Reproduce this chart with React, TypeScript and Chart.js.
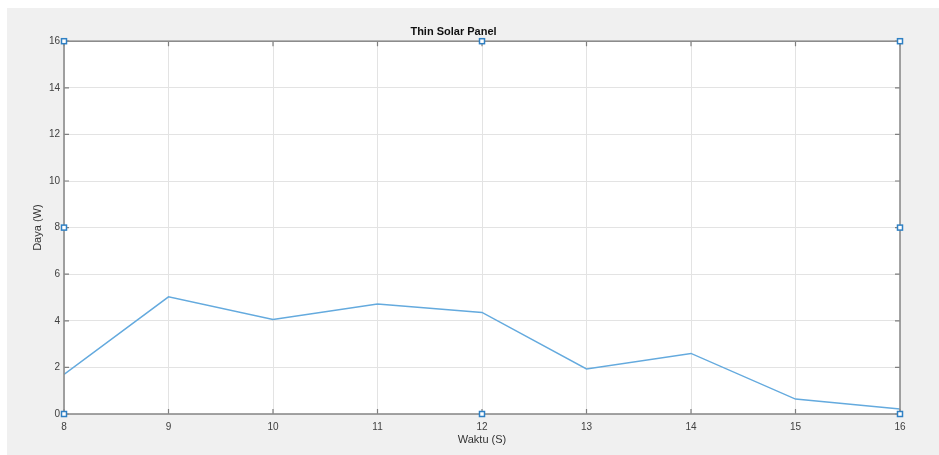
import React, { useEffect, useRef } from "react";
import { Chart, registerables } from "chart.js";

Chart.register(...registerables);

const waktu = [8, 9, 10, 11, 12, 13, 14, 15, 16];
const daya = [1.7, 5.03, 4.06, 4.72, 4.36, 1.93, 2.6, 0.64, 0.21];
const chartTitle = "Thin Solar Panel";
const xLabel = "Waktu (S)";
const yLabel = "Daya (W)";

const FONT = "'Liberation Sans', Arial, Helvetica, sans-serif";

const matlabAxesPlugin = {
  id: "matlabAxes",
  beforeDraw(chart: any) {
    const { ctx, chartArea } = chart;
    const { left, right, top, bottom } = chartArea;
    ctx.save();
    ctx.fillStyle = "#ffffff";
    ctx.fillRect(left, top, right - left, bottom - top);
    ctx.restore();
  },
  afterDraw(chart: any) {
    const { ctx, chartArea } = chart;
    const { left, right, top, bottom } = chartArea;
    const xs = chart.scales.x;
    const ys = chart.scales.y;
    ctx.save();
    // inward ticks
    ctx.strokeStyle = "#7f7f7f";
    ctx.lineWidth = 1.2;
    const tl = 5;
    ctx.beginPath();
    xs.ticks.forEach((t: any) => {
      const px = xs.getPixelForValue(t.value);
      ctx.moveTo(px, bottom);
      ctx.lineTo(px, bottom - tl);
      ctx.moveTo(px, top);
      ctx.lineTo(px, top + tl);
    });
    ys.ticks.forEach((t: any) => {
      const py = ys.getPixelForValue(t.value);
      ctx.moveTo(left, py);
      ctx.lineTo(left + tl, py);
      ctx.moveTo(right, py);
      ctx.lineTo(right - tl, py);
    });
    ctx.stroke();
    // box
    ctx.strokeStyle = "#8c8c8c";
    ctx.lineWidth = 1.6;
    ctx.strokeRect(left, top, right - left, bottom - top);
    // selection handles
    const midX = (left + right) / 2;
    const midY = (top + bottom) / 2;
    const pts = [
      [left, top], [midX, top], [right, top],
      [left, midY], [right, midY],
      [left, bottom], [midX, bottom], [right, bottom],
    ];
    ctx.lineWidth = 1.5;
    ctx.strokeStyle = "#2f80c4";
    ctx.fillStyle = "#ffffff";
    pts.forEach(([px, py]) => {
      ctx.fillRect(px - 2.5, py - 2.5, 5, 5);
      ctx.strokeRect(px - 2.5, py - 2.5, 5, 5);
    });
    ctx.restore();
  },
};

export default function App() {
  const ref = useRef<HTMLCanvasElement | null>(null);

  useEffect(() => {
    if (!ref.current) return;
    const chart = new Chart(ref.current, {
      type: "line",
      data: {
        datasets: [
          {
            data: waktu.map((x, i) => ({ x, y: daya[i] })),
            borderColor: "rgb(100,170,222)",
            borderWidth: 1.5,
            pointRadius: 0,
            tension: 0,
            fill: false,
          },
        ],
      },
      options: {
        responsive: false,
        animation: false,
        layout: { padding: { top: 0, right: 39, bottom: 0, left: 0 } },
        plugins: {
          legend: { display: false },
          tooltip: { enabled: false },
          title: {
            display: true,
            text: chartTitle,
            color: "#111111",
            font: { family: FONT, size: 11, weight: "bold" },
            padding: { top: 17, bottom: 3 },
          },
        },
        scales: {
          x: {
            type: "linear",
            min: 8,
            max: 16,
            ticks: {
              stepSize: 1,
              color: "#404040",
              font: { family: FONT, size: 10 },
              padding: 7,
              maxRotation: 0,
            },
            grid: { color: "#e3e3e3", lineWidth: 1, drawTicks: false },
            border: { display: false },
            title: {
              display: true,
              text: xLabel,
              color: "#333333",
              font: { family: FONT, size: 11 },
              padding: { top: 0, bottom: 8 },
            },
            afterFit: (s: any) => {
              s.height = 41;
            },
          },
          y: {
            type: "linear",
            min: 0,
            max: 16,
            ticks: {
              stepSize: 2,
              color: "#404040",
              font: { family: FONT, size: 10 },
              padding: 4,
            },
            grid: { color: "#e3e3e3", lineWidth: 1, drawTicks: false },
            border: { display: false },
            title: {
              display: true,
              text: yLabel,
              color: "#333333",
              font: { family: FONT, size: 11 },
              padding: { top: 24, bottom: 0 },
            },
            afterFit: (s: any) => {
              s.width = 57;
            },
          },
        },
      },
      plugins: [matlabAxesPlugin],
    });
    return () => chart.destroy();
  }, []);

  return (
    <div
      style={{
        position: "fixed",
        left: 7,
        top: 8,
        width: 932,
        height: 447,
        background: "#f0f0f0",
      }}
    >
      <canvas ref={ref} width={932} height={447} style={{ display: "block" }} />
    </div>
  );
}
